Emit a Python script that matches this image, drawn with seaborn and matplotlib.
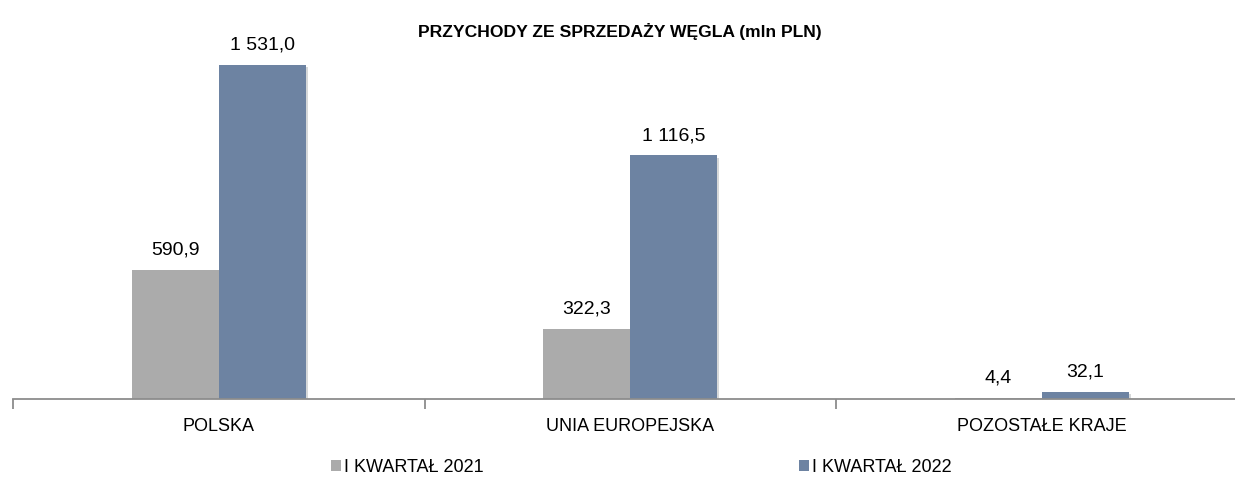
import matplotlib
matplotlib.use("Agg")
import matplotlib.pyplot as plt
import matplotlib.patheffects as pe
import seaborn as sns
import pandas as pd
from matplotlib.patches import Patch

categories = ["POLSKA", "UNIA EUROPEJSKA", "POZOSTAŁE KRAJE"]
series_names = ["I KWARTAŁ 2021", "I KWARTAŁ 2022"]
values_2021 = [590.9, 322.3, 4.4]
values_2022 = [1531.0, 1116.5, 32.1]
colors = ["#ABABAB", "#6D83A2"]
title = "PRZYCHODY ZE SPRZEDAŻY WĘGLA (mln PLN)"

df = pd.DataFrame({
    "kat": categories * 2,
    "seria": [series_names[0]] * 3 + [series_names[1]] * 3,
    "val": values_2021 + values_2022,
})

sns.set_theme(style="white")
fam = ["Liberation Sans Narrow", "Liberation Sans", "DejaVu Sans"]
plt.rcParams["font.family"] = fam
plt.rcParams["text.color"] = "black"
plt.rcParams["xtick.color"] = "black"

fig = plt.figure(figsize=(12.35, 4.87), dpi=100)
x0, x1 = 13, 13 + 3 * 411.5
ax = fig.add_axes([x0 / 1235, 1 - 399 / 487, (x1 - x0) / 1235, (399 - 30) / 487])
sns.barplot(data=df, x="kat", y="val", hue="seria", palette=colors, width=0.423,
            gap=0, dodge=True, ax=ax, legend=False, saturation=1, linewidth=0)

for p in ax.patches:
    p.set_path_effects([pe.SimplePatchShadow(offset=(1.5, -1.5), alpha=0.18), pe.Normal()])

ymax = 1531.0 * (399 - 30) / (399 - 65)
ax.set_ylim(0, ymax)
ax.set_xlim(-0.5, 2.5)

def fmt(v):
    s = f"{v:,.1f}"
    return s.replace(",", "\u00a0").replace(".", ",")

for cont in ax.containers:
    ax.bar_label(cont, labels=[fmt(b.get_height()) for b in cont], padding=8,
                 fontsize=14, color="#000000")

for s in ["top", "left", "right"]:
    ax.spines[s].set_visible(False)
ax.spines["bottom"].set_color("#8C8C8C")
ax.spines["bottom"].set_linewidth(1.3)
ax.set_yticks([])
ax.set_xticks([-0.5, 0.5, 1.5, 2.5])
ax.set_xticklabels([])
ax.tick_params(axis="x", which="major", length=7, width=1.3, color="#8C8C8C", direction="out", bottom=True)
ax.set_xticks([0, 1, 2], minor=True)
ax.set_xticklabels(categories, minor=True, fontsize=13)
ax.tick_params(axis="x", which="minor", length=0, pad=14)
ax.set_xlabel("")
ax.set_ylabel("")

fig.text(620 / 1235, 1 - 31 / 487, title, ha="center", va="center", fontsize=12.6,
         fontweight="bold", color="black")

handles = [Patch(facecolor=c, edgecolor="none") for c in colors]
leg = fig.legend(handles, series_names, loc="center left", bbox_to_anchor=(331 / 1235, 1 - 467 / 487),
                 ncol=2, frameon=False, fontsize=13, handlelength=0.55, handleheight=0.55,
                 handletextpad=0.15, columnspacing=17.5, borderpad=0, borderaxespad=0)

fig.savefig("out.png", dpi=100)
